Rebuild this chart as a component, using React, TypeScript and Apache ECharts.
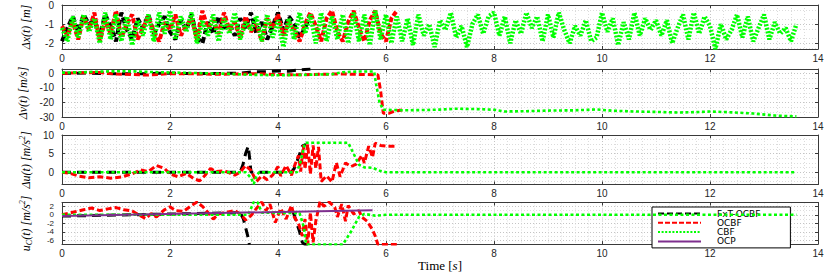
import React, { useEffect, useRef } from "react";
import * as echarts from "echarts";

// ---------- data ----------
const DT = 0.1; // sampling step of the Δx(t) traces [s]

const dxFxTOCBF = [
  -1.9, -1.2, -0.6, -1.4, -0.5, -1.0, -0.8, -1.6, -0.5, -1.1, -1.9,
  -0.4, -1.3, -1.8, -0.7, -1.2, -0.5, -1.5, -1.0, -0.6, -1.4,
  -1.8, -0.8, -1.3, -0.5, -1.7, -2.0, -0.9, -1.5, -0.6, -1.2,
  -1.0, -1.6, -0.7, -1.2, -0.4, -1.5, -0.9, -1.8, -1.1, -0.4,
  -1.3, -0.6, -1.0, -1.7, -1.2, -0.5,
];
const dxOCBF = [
  -1.1, -1.6, -0.9, -1.8, -0.6, -1.3, -0.4, -1.9, -0.8, -1.5, -0.3,
  -1.7, -1.0, -0.5, -1.8, -1.2, -0.6, -1.4, -1.9, -0.9, -1.3,
  -0.5, -1.6, -1.1, -0.7, -1.8, -0.3, -1.2, -0.8, -1.5, -0.4,
  -1.3, -0.9, -1.7, -0.6, -1.4, -1.0, -1.9, -0.7, -1.2, -0.5,
  -1.6, -0.9, -1.3, -1.9, -1.0, -0.4, -1.1, -1.9, -0.7, -0.3,
  -1.4, -1.9, -0.9, -0.3, -1.2, -1.9, -0.8, -0.3, -1.5, -1.9,
  -0.7, -0.3,
];
const dxCBF = [
  -1.2, -1.9, -0.6, -1.7, -0.5, -1.4, -0.7, -2.0, -0.4, -1.8, -0.5,
  -1.9, -0.6, -2.1, -0.8, -1.6, -0.5, -1.9, -0.4, -1.5, -0.3,
  -1.8, -0.6, -1.4, -0.4, -2.0, -0.8, -1.6, -0.5, -1.9, -0.7,
  -1.5, -0.4, -1.8, -0.9, -1.3, -0.6, -1.9, -0.5, -1.7, -0.8,
  -2.2, -0.7, -1.8, -0.4, -1.5, -0.5, -2.0, -0.4, -1.9, -0.6,
  -1.8, -0.5, -2.0, -0.4, -1.9, -0.5, -2.1, -0.3, -1.8, -0.5,
  -2.0, -0.6, -1.9, -0.7, -2.1, -0.5, -1.6, -1.0, -2.2, -0.8,
  -1.3, -0.4, -1.7, -1.1, -2.2, -1.0, -0.5, -1.5, -0.6, -0.4,
  -1.6, -0.6, -2.0, -0.8, -1.5, -0.4, -1.2, -0.6, -1.9, -0.5,
  -1.7, -0.4, -1.3, -2.0, -1.1, -1.6, -0.8, -1.9, -1.7, -0.4,
  -1.4, -0.7, -2.1, -0.9, -1.8, -0.4, -1.6, -0.7, -1.3, -0.8,
  -1.6, -0.8, -2.0, -1.2, -0.5, -1.8, -0.4, -1.5, -0.6, -1.1,
  -2.3, -1.0, -1.8, -1.3, -0.5, -1.7, -0.6, -1.9, -1.2, -0.5,
  -1.8, -0.9, -1.5, -1.2, -1.9, -1.0,
];

const dvFxTOCBF = [
  [0, 0], [0.5, 0.2], [1.0, -0.3], [1.5, -0.2], [2.0, 0.1], [2.5, -0.2], [3.0, 0],
  [3.3, 0.2], [3.5, 1.0], [3.8, 1.2], [4.0, 1.6], [4.2, 1.5], [4.4, 2.4], [4.6, 3.0],
];
const dvOCBF = [
  [0, 0], [0.3, 0.4], [0.7, 0.6], [1.0, -0.5], [1.3, -0.8], [1.6, -1.2], [2.0, -0.2],
  [2.4, -0.3], [2.8, -0.6], [3.2, -0.5], [3.6, -0.2], [4.0, -0.8], [4.4, -1.0], [4.8, -0.6],
  [5.2, -0.4], [5.6, -0.8], [5.85, -1.0], [5.9, -12], [5.95, -27.5], [6.05, -27.5],
  [6.15, -26], [6.3, -25.2],
];
const dvCBF = [
  [0, 0.5], [0.4, 0.8], [0.8, 1.3], [1.2, 1.5], [1.6, 1.0], [2.0, 0.6], [2.5, 0.2],
  [3.0, -0.2], [3.5, -1.0], [4.0, -1.3], [4.5, -1.0], [5.0, -0.6], [5.2, 0.8], [5.5, 1.3],
  [5.78, 1.3], [5.82, -8], [5.88, -20], [5.95, -25], [6.3, -25.4], [6.7, -25.2], [7.0, -24.9],
  [7.3, -24.3], [7.7, -24.6], [8.0, -25.0], [8.2, -26.2], [8.6, -26.0], [9.0, -25.6],
  [9.5, -25.4], [9.9, -24.8], [10.2, -25.7], [10.6, -26.2], [11.0, -26.5], [11.4, -26.9],
  [11.8, -26.6], [12.0, -26.2], [12.4, -26.8], [12.8, -27.6], [13.2, -29.0], [13.6, -29.6],
];

const duFxTOCBF = [
  [0, 0], [3.3, 0], [3.35, 2], [3.4, 5], [3.45, 7], [3.48, 3], [3.5, 0], [4.25, 0],
  [4.3, 1], [4.38, 4], [4.45, 7], [4.52, 7.5],
];
const duOCBF = [
  [0, 0], [0.15, -0.3], [0.3, -1.0], [0.5, -1.5], [0.7, -1.2], [0.9, -1.6], [1.1, -1.3],
  [1.3, -0.4], [1.45, 0.6], [1.6, 0.2], [1.75, 1.8], [1.9, 1.0], [2.0, -0.5], [2.15, -1.2],
  [2.3, -0.3], [2.45, -1.8], [2.55, -2.3], [2.65, -0.8], [2.75, 1.0], [2.85, 0.2], [3.0, 0.4],
  [3.1, -0.2], [3.2, -0.8], [3.3, 0], [3.4, 1.8], [3.5, 0.5], [3.6, -2.5], [3.7, -1.0],
  [3.8, -2.0], [3.9, -0.8], [4.0, 1.5], [4.05, -1.0], [4.15, 1.8], [4.25, -0.8], [4.3, 1.5],
  [4.38, 4.5], [4.42, 0.2], [4.47, 7.3], [4.5, 0.8], [4.55, 7.5], [4.6, -0.5], [4.65, 7.2],
  [4.7, 1], [4.75, 6.8], [4.8, -2.5], [4.9, -1.0], [5.0, -2.6], [5.08, 2.6], [5.15, -1.2],
  [5.25, 2.5], [5.35, 1.5], [5.45, 2.2], [5.55, 4.5], [5.6, 2.5], [5.68, 7], [5.75, 4],
  [5.8, 7.8], [5.9, 7.2], [6.0, 7.0], [6.2, 7.0],
];
const duCBF = [
  [0, 0], [3.4, 0], [3.5, -1.5], [3.55, -3.2], [3.6, -1], [3.65, 0], [4.35, 0], [4.42, 3],
  [4.5, 7.9], [4.6, 7.9], [5.3, 7.9], [5.4, 5], [5.5, 2], [5.6, 1.3], [5.75, 1.2], [5.9, 0.3],
  [6.0, 0], [13.6, 0],
];

const ucFxTOCBF = [
  [0, -0.3], [3.3, 0.5], [3.36, -1], [3.4, -3], [3.44, -5], [3.47, -7], [3.5, null],
  [4.28, 0.74], [4.35, -2], [4.4, -4], [4.45, -6.5], [4.5, -7], [4.55, -7],
];
const ucOCBF = [
  [0, 0], [0.2, 0.6], [0.4, 1.2], [0.55, 1.6], [0.7, 1.0], [0.85, 1.4], [1.0, 1.7],
  [1.15, 1.2], [1.3, 0.9], [1.45, -0.2], [1.55, -0.9], [1.65, 0.3], [1.75, -0.5], [1.9, 1.2],
  [2.0, 1.9], [2.1, 1.0], [2.25, 0.8], [2.4, 2.2], [2.5, 3.0], [2.6, 2.0], [2.7, 0.6],
  [2.8, -1.0], [2.9, 0.2], [3.05, 0.6], [3.2, 1.0], [3.3, 0.2], [3.4, -1.2], [3.5, -0.2],
  [3.6, 1.5], [3.7, 3.0], [3.78, 1.0], [3.85, 2.5], [3.95, -1.8], [4.05, 1.5], [4.15, -1.0],
  [4.25, 2.2], [4.3, -0.5], [4.38, -2], [4.45, -5], [4.5, -1], [4.55, -7], [4.6, 0.5],
  [4.65, -6.5], [4.7, -1.5], [4.78, 3.2], [4.85, 2.0], [4.95, 3.0], [5.05, 1.8], [5.1, -0.5],
  [5.18, 2.5], [5.25, -1.5], [5.3, 2.2], [5.4, 0.2], [5.5, 1.0], [5.55, -0.5], [5.65, -1.5],
  [5.75, -3.5], [5.8, -5], [5.85, -7], [6.0, -7], [6.2, -7],
];
const ucCBF = [
  [0, 0], [3.45, 0], [3.5, 1.5], [3.55, 3.0], [3.62, 3.0], [3.7, 0.5], [4.4, 0.4], [4.48, -3],
  [4.52, -7], [5.2, -7], [5.35, -4], [5.5, -0.5], [5.6, 0.2], [5.8, -0.2], [6.0, 0], [13.6, 0],
];
const ucOCP = [[0, -0.3], [5.75, 1.1]];

const X_TICKS = [0, 2, 4, 6, 8, 10, 12, 14];
const Y_TICKS = [
  [-2, -1, 0],
  [-30, -20, -10, 0],
  [0, 5, 10],
  [-6, -4, -2, 0, 2],
];
const SERIES_NAMES = ["FxT-OCBF", "OCBF", "CBF", "OCP"];

// ---------- layout / style ----------
const PANELS = [
  { top: 3, height: 46, min: -2.3, max: 0, splitNumber: 5, minor: 2, labelSize: 10 },
  { top: 69, height: 48, min: -30, max: 3, interval: 10, minor: 3, labelSize: 10 },
  { top: 135, height: 49.5, min: -3.3, max: 10, splitNumber: 3, minor: 4, labelSize: 10 },
  { top: 202.5, height: 48, min: -6.9, max: 2.9, splitNumber: 5, minor: 2, labelSize: 8 },
];
const Y_NAMES = [
  "{i|Δx(t) [m]}",
  "{i|Δv(t) [m/s]}",
  "{i|Δu(t) [m/s}{sup|2}{i|]}",
  "{i|u}{sub|C}{i|(t) [m/s}{sup|2}{i|]}",
];
// line styles: default and for the dense Δx panel
const STYLES = [
  { color: "#000000", type: [9, 6], width: 3, topType: [6, 3], topWidth: 4 },
  { color: "#ff0000", type: [6, 3], width: 3, topType: [5, 2], topWidth: 4 },
  { color: "#00ff00", type: [3, 2.5], width: 2.6, topType: [2, 1.6], topWidth: 4.5 },
  { color: "#7e2f8e", type: "solid", width: 2, topType: "solid", topWidth: 2 },
];
const AXIS_COLOR = "#3a3a3a";
const richName = {
  i: { fontFamily: "Liberation Serif", fontStyle: "italic", fontSize: 12, color: "#000", lineHeight: 15 },
  n: { fontFamily: "Liberation Serif", fontSize: 12.5, color: "#000", lineHeight: 15 },
  sup: { fontFamily: "Liberation Serif", fontStyle: "italic", fontSize: 8, color: "#000", lineHeight: 15, verticalAlign: "top" },
  sub: { fontFamily: "Liberation Serif", fontStyle: "italic", fontSize: 8, color: "#000", lineHeight: 15, verticalAlign: "bottom" },
};
const richX = {
  i: { fontFamily: "Liberation Serif", fontStyle: "italic", fontSize: 13, color: "#000", lineHeight: 15 },
  n: { fontFamily: "Liberation Serif", fontSize: 13, color: "#000", lineHeight: 15 },
};

const sampled = (ys: number[]) => ys.map((y, i) => [Math.round(i * DT * 100) / 100, y]);

function buildOption() {
  const grid = PANELS.map((p) => ({ left: 62, right: 12, top: p.top, height: p.height }));
  const xAxis: any[] = [];
  const yAxis: any[] = [];
  PANELS.forEach((p, i) => {
    const common = {
      gridIndex: i,
      type: "value",
      min: X_TICKS[0],
      max: X_TICKS[X_TICKS.length - 1],
      interval: 2,
      axisLine: { show: true, onZero: false, lineStyle: { color: AXIS_COLOR, width: 1 } },
      axisTick: { show: true, inside: true, length: 3, lineStyle: { color: AXIS_COLOR } },
    };
    xAxis.push({
      ...common,
      position: "bottom",
      axisLabel: {
        show: true, margin: 4, fontSize: 10, color: "#262626", fontFamily: "Liberation Sans",
        customValues: X_TICKS,
      },
      splitLine: { show: true, lineStyle: { color: "#c4c4c4", type: [1, 2], width: 1 } },
      minorTick: { show: false, splitNumber: 8 },
      minorSplitLine: { show: true, lineStyle: { color: "#dcdcdc", type: [1, 2], width: 1 } },
      ...(i === 3
        ? {
            name: "{n|Time [}{i|s}{n|]}",
            nameLocation: "middle",
            nameGap: 7,
            nameTextStyle: { rich: richX, verticalAlign: "top" },
          }
        : {}),
    });
    xAxis.push({
      ...common,
      position: "top",
      axisLabel: { show: false },
      splitLine: { show: false },
    });
    const yCommon: any = {
      gridIndex: i,
      type: "value",
      min: p.min,
      max: p.max,
      axisLine: { show: true, onZero: false, lineStyle: { color: AXIS_COLOR, width: 1 } },
      axisTick: { show: true, inside: true, length: 3, lineStyle: { color: AXIS_COLOR }, customValues: Y_TICKS[i] },
    };
    if (p.interval) yCommon.interval = p.interval;
    if (p.splitNumber) yCommon.splitNumber = p.splitNumber;
    yAxis.push({
      ...yCommon,
      position: "left",
      axisLabel: {
        show: true, margin: 8, fontSize: p.labelSize, color: "#262626", fontFamily: "Liberation Sans",
        customValues: Y_TICKS[i],
      },
      splitLine: { show: true, lineStyle: { color: "#c4c4c4", type: [1, 2], width: 1 } },
      minorTick: { show: false, splitNumber: p.minor },
      minorSplitLine: { show: true, lineStyle: { color: "#dcdcdc", type: [1, 2], width: 1 } },
      name: Y_NAMES[i],
      nameLocation: "middle",
      nameGap: 29,
      nameTextStyle: { rich: richName },
    });
    yAxis.push({
      ...yCommon,
      position: "right",
      axisLabel: { show: false },
      splitLine: { show: false },
    });
  });

  const panelsData = [
    [sampled(dxFxTOCBF), sampled(dxOCBF), sampled(dxCBF), null],
    [dvFxTOCBF, dvOCBF, dvCBF, null],
    [duFxTOCBF, duOCBF, duCBF, null],
    [ucFxTOCBF, ucOCBF, ucCBF, ucOCP],
  ];
  const series: any[] = [];
  panelsData.forEach((row, pi) => {
    row.forEach((data, si) => {
      if (!data) return;
      const s = STYLES[si];
      const top = pi === 0;
      series.push({
        name: SERIES_NAMES[si],
        type: "line",
        xAxisIndex: pi * 2,
        yAxisIndex: pi * 2,
        data,
        symbol: "none",
        showSymbol: false,
        connectNulls: false,
        silent: true,
        clip: true,
        lineStyle: {
          color: s.color,
          width: top ? s.topWidth : s.width,
          type: top ? s.topType : s.type,
          cap: "butt",
        },
        itemStyle: { color: s.color },
        z: 2 + si,
      });
    });
  });

  return {
    animation: false,
    backgroundColor: "#ffffff",
    grid,
    xAxis,
    yAxis,
    legend: {
      data: SERIES_NAMES,
      orient: "vertical",
      left: 652,
      top: 207,
      itemWidth: 43,
      itemHeight: 8,
      itemGap: 0.3,
      padding: [2, 30, 2, 5],
      backgroundColor: "#ffffff",
      borderColor: "#000000",
      borderWidth: 1,
      borderRadius: 0,
      itemStyle: { opacity: 0, color: "transparent", borderWidth: 0 },
      textStyle: {
        fontFamily: "DejaVu Sans", fontSize: 9, color: "#000", lineHeight: 8,
        padding: [0, 0, 0, 11],
      },
      selectedMode: false,
    },
    series,
  };
}

export default function App() {
  const ref = useRef<HTMLDivElement>(null);
  useEffect(() => {
    if (!ref.current) return;
    const chart = echarts.init(ref.current, undefined, { renderer: "svg" });
    chart.setOption(buildOption() as any);
    return () => chart.dispose();
  }, []);
  return (
    <div
      ref={ref}
      style={{ position: "fixed", left: 0, top: 0, width: 830, height: 273, background: "#fff" }}
    />
  );
}
